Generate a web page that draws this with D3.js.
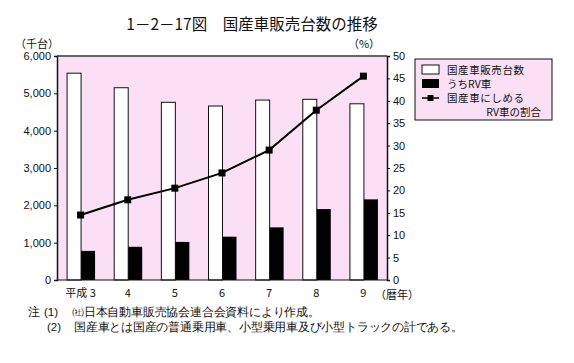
<!DOCTYPE html>
<html>
<head>
<meta charset="utf-8">
<script src="https://cdn.jsdelivr.net/npm/d3@7"></script>
<style>
  body { margin: 0; background: #fff; }
  svg text { font-family: "Liberation Sans", Arial, sans-serif; fill: #111; }
  svg .jp { font-family: "Noto Sans CJK JP", sans-serif; }
</style>
</head>
<body>
<svg id="chart" width="574" height="363"></svg>
<script>
// data (平成3〜9年)
const years = ['平成 3', '4', '5', '6', '7', '8', '9'];
const sales = [5540, 5150, 4760, 4660, 4820, 4840, 4720];      // 国産車販売台数（千台）
const rvSales = [780, 890, 1020, 1160, 1410, 1900, 2160];       // うちRV車（千台）
const rvShare = [14.5, 17.9, 20.5, 23.9, 29.0, 37.9, 45.5];     // RV車の割合（%）
const leftTicks = [0, 1000, 2000, 3000, 4000, 5000, 6000];
const rightTicks = [0, 5, 10, 15, 20, 25, 30, 35, 40, 45, 50];

const margin = { top: 56, right: 187, bottom: 83, left: 57 };
const width = 574 - margin.left - margin.right;
const height = 363 - margin.top - margin.bottom;
const pink = '#fbdff5';

const svg = d3.select('#chart');

const x = d3.scaleBand().domain(years).range([0, width]).padding(0);
const yLeft = d3.scaleLinear().domain([0, 6000]).range([height, 0]);
const yRight = d3.scaleLinear().domain([0, 50]).range([height, 0]);
const barW = 14;

// title
svg.append('text')
  .attr('class', 'jp')
  .attr('x', 252)
  .attr('y', 30)
  .attr('text-anchor', 'middle')
  .style('font-size', '15.5px')
  .text('1－2－17図　国産車販売台数の推移');

const g = svg.append('g')
  .attr('transform', `translate(${margin.left}, ${margin.top})`);

// plot background
g.append('rect')
  .attr('width', width)
  .attr('height', height)
  .attr('fill', pink);

// white bars
g.selectAll('.bar-total')
  .data(sales)
  .enter().append('rect')
  .attr('class', 'bar-total')
  .attr('x', (d, i) => x(years[i]) + x.bandwidth() / 2 - barW + 0.5)
  .attr('y', d => yLeft(d))
  .attr('width', barW)
  .attr('height', d => height - yLeft(d))
  .attr('fill', '#fff')
  .attr('stroke', '#111')
  .attr('stroke-width', 1);

// black bars
g.selectAll('.bar-rv')
  .data(rvSales)
  .enter().append('rect')
  .attr('class', 'bar-rv')
  .attr('x', (d, i) => x(years[i]) + x.bandwidth() / 2 + 0.5)
  .attr('y', d => yLeft(d))
  .attr('width', barW)
  .attr('height', d => height - yLeft(d))
  .attr('fill', '#000');

// share line
const line = d3.line()
  .x((d, i) => x(years[i]) + x.bandwidth() / 2)
  .y(d => yRight(d));

g.append('path')
  .datum(rvShare)
  .attr('d', line)
  .attr('fill', 'none')
  .attr('stroke', '#000')
  .attr('stroke-width', 2);

g.selectAll('.marker')
  .data(rvShare)
  .enter().append('rect')
  .attr('class', 'marker')
  .attr('x', (d, i) => x(years[i]) + x.bandwidth() / 2 - 3.5)
  .attr('y', d => yRight(d) - 3.5)
  .attr('width', 7)
  .attr('height', 7)
  .attr('fill', '#000');

// frame
g.append('line')
  .attr('x1', 0).attr('x2', width)
  .attr('y1', 0).attr('y2', 0)
  .attr('stroke', '#666')
  .attr('stroke-width', 2);
g.append('line')
  .attr('x1', 0).attr('x2', width)
  .attr('y1', height).attr('y2', height)
  .attr('stroke', '#111');

// axes
const leftAxis = g.append('g')
  .call(d3.axisLeft(yLeft).tickValues(leftTicks).tickFormat(d3.format(',')).tickSize(3).tickPadding(3));
const rightAxis = g.append('g')
  .attr('transform', `translate(${width}, 0)`)
  .call(d3.axisRight(yRight).tickValues(rightTicks).tickSize(3).tickPadding(3));
[leftAxis, rightAxis].forEach(a => {
  a.select('.domain').attr('stroke', '#111').attr('stroke-width', 1.5);
  a.selectAll('.tick line').attr('stroke', '#111');
  a.selectAll('.tick text')
    .style('font-family', '"Liberation Sans", Arial, sans-serif')
    .style('font-size', '11px')
    .attr('fill', '#111');
});

// x labels
g.selectAll('.xlabel')
  .data(years)
  .enter().append('text')
  .attr('class', 'xlabel jp')
  .attr('x', d => x(d) + x.bandwidth() / 2)
  .attr('y', height + 17)
  .attr('text-anchor', 'middle')
  .style('font-size', '11px')
  .text(d => d);

g.append('text')
  .attr('class', 'jp')
  .attr('x', width - 12)
  .attr('y', height + 19)
  .style('font-size', '11px')
  .text('（暦年）');

// axis unit labels
svg.append('text')
  .attr('class', 'jp')
  .attr('x', 37)
  .attr('y', 48)
  .attr('text-anchor', 'middle')
  .style('font-size', '11px')
  .text('（千台）');
svg.append('text')
  .attr('class', 'jp')
  .attr('x', 364)
  .attr('y', 48)
  .attr('text-anchor', 'middle')
  .style('font-size', '11px')
  .text('（%）');

// legend
const legend = svg.append('g').attr('transform', 'translate(415, 59)');
legend.append('rect')
  .attr('width', 137)
  .attr('height', 61)
  .attr('fill', pink)
  .attr('stroke', '#111');
legend.append('rect')
  .attr('x', 7).attr('y', 6).attr('width', 17).attr('height', 9)
  .attr('fill', '#fff').attr('stroke', '#111');
legend.append('rect')
  .attr('x', 7).attr('y', 20).attr('width', 17).attr('height', 9)
  .attr('fill', '#000');
legend.append('line')
  .attr('x1', 7).attr('x2', 24).attr('y1', 39).attr('y2', 39)
  .attr('stroke', '#000').attr('stroke-width', 1.5);
legend.append('rect')
  .attr('x', 12.5).attr('y', 36).attr('width', 6).attr('height', 6)
  .attr('fill', '#000');

const legendText = [
  { t: '国産車販売台数', x: 32, y: 14.5, anchor: 'start' },
  { t: 'うちRV車', x: 32, y: 28.5, anchor: 'start' },
  { t: '国産車にしめる', x: 32, y: 43, anchor: 'start' },
  { t: 'RV車の割合', x: 126, y: 57, anchor: 'end' },
];
legend.selectAll('.lt')
  .data(legendText)
  .enter().append('text')
  .attr('class', 'lt jp')
  .attr('x', d => d.x)
  .attr('y', d => d.y)
  .attr('text-anchor', d => d.anchor)
  .style('font-size', '10.5px')
  .attr('textLength', d => d.t.length === 7 ? 77 : null)
  .text(d => d.t);

// notes
const notes = svg.append('g').attr('class', 'jp');
notes.append('text').attr('x', 28).attr('y', 316).style('font-size', '11.5px').text('注');
notes.append('text').attr('x', 44).attr('y', 316).style('font-size', '11.5px').text('(1)');
notes.append('text').attr('x', 72).attr('y', 316).style('font-size', '11.5px').attr('textLength', 248).text('㈳日本自動車販売協会連合会資料により作成。');
notes.append('text').attr('x', 47).attr('y', 331).style('font-size', '11.5px').text('(2)');
notes.append('text').attr('x', 74).attr('y', 331).style('font-size', '11.5px').attr('textLength', 389).text('国産車とは国産の普通乗用車、小型乗用車及び小型トラックの計である。');
</script>
</body>
</html>
